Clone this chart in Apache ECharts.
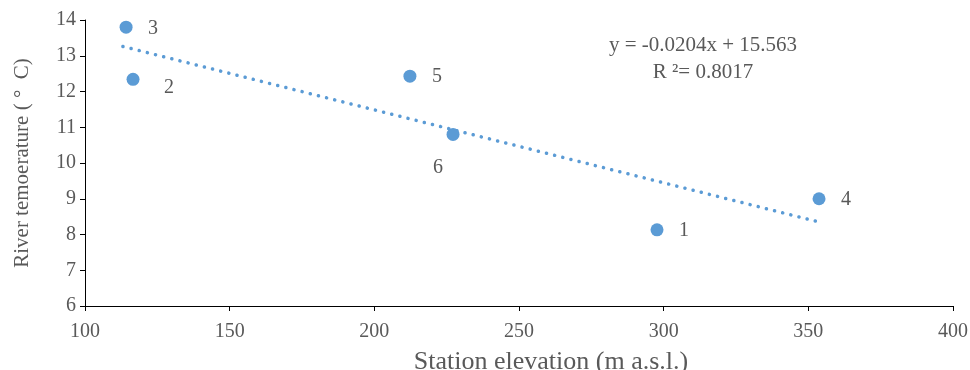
<!DOCTYPE html>
<html>
<head>
<meta charset="utf-8">
<script src="https://cdn.jsdelivr.net/npm/echarts@6/dist/echarts.min.js"></script>
<style>
  html, body { margin: 0; padding: 0; background: #fff; }
  #main { width: 970px; height: 370px; }
</style>
</head>
<body>
<div id="main"></div>
<script>
// station data
const stations = ['3', '2', '5', '6', '1', '4'];
const elevation = [114.2, 116.6, 212.3, 227.2, 297.7, 353.7];
const temperature = [13.80, 12.34, 12.43, 10.80, 8.13, 9.00];

// linear trend line end points
const trendX = [113.1, 353.7];
const trendY = [13.26, 8.35];

const xTicks = [100, 150, 200, 250, 300, 350, 400];
const yTicks = [6, 7, 8, 9, 10, 11, 12, 13, 14];

const blue = '#5B9BD5';
const grey = '#595959';
const font = '"Liberation Serif", "Times New Roman", serif';

// label placement per station
const labelOffset = {
  '3': [27, 2], '2': [36, 8], '5': [27, 1],
  '6': [-15, 33], '1': [27, 1], '4': [27, 1]
};

const chart = echarts.init(document.getElementById('main'));

const points = elevation.map((x, i) => ({
  value: [x, temperature[i]],
  label: { offset: labelOffset[stations[i]] }
}));

chart.setOption({
  animation: false,
  grid: { left: 85, right: 17, top: 20, bottom: 64, outerBoundsMode: 'none' },
  xAxis: {
    type: 'value',
    min: xTicks[0],
    max: xTicks[xTicks.length - 1],
    interval: 50,
    name: 'Station elevation (m a.s.l.)',
    nameLocation: 'middle',
    nameGap: 43,
    nameTextStyle: { fontFamily: font, fontSize: 26, color: grey, padding: [0, 0, 0, 64] },
    axisLine: { lineStyle: { color: '#000', width: 1 } },
    axisTick: { show: true, length: 5, lineStyle: { color: '#000' } },
    axisLabel: { fontFamily: font, fontSize: 20, color: grey, margin: 16 },
    splitLine: { show: false }
  },
  yAxis: {
    type: 'value',
    min: yTicks[0],
    max: yTicks[yTicks.length - 1],
    interval: 1,
    name: 'River temoerature ( \u00b0  C)',
    nameLocation: 'middle',
    nameGap: 52,
    nameTextStyle: { fontFamily: font, fontSize: 21, color: grey },
    axisLine: { show: true, lineStyle: { color: '#000', width: 1 } },
    axisTick: { show: true, length: 5, lineStyle: { color: '#000' } },
    axisLabel: { fontFamily: font, fontSize: 20, color: grey, margin: 9 },
    splitLine: { show: false }
  },
  series: [
    {
      type: 'line',
      data: trendX.map((x, i) => [x, trendY[i]]),
      showSymbol: false,
      symbol: 'none',
      lineStyle: { color: blue, width: 3.5, type: [0.1, 8.3], cap: 'round' },
      z: 2
    },
    {
      type: 'scatter',
      data: points,
      symbol: 'circle',
      symbolSize: 13,
      itemStyle: { color: blue, opacity: 1 },
      label: {
        show: true,
        position: 'inside',
        formatter: p => stations[p.dataIndex],
        fontFamily: font,
        fontSize: 20,
        color: grey
      },
      z: 3
    }
  ],
  graphic: [
    {
      type: 'text',
      x: 703,
      y: 32,
      style: {
        text: 'y = -0.0204x + 15.563\nR \u00b2= 0.8017',
        fontFamily: font,
        fontSize: 21,
        lineHeight: 27,
        fill: grey,
        align: 'center',
        verticalAlign: 'top'
      }
    }
  ]
});
</script>
</body>
</html>
